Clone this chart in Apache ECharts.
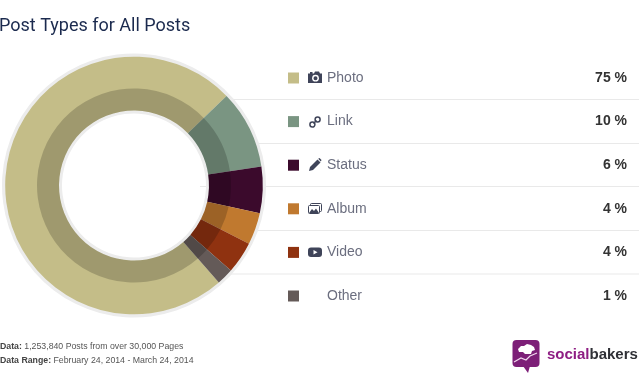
<!DOCTYPE html>
<html><head><meta charset="utf-8">
<style>html,body{margin:0;padding:0;background:#fff}#c{width:639px;height:386px}</style>
<script src="https://cdn.jsdelivr.net/npm/echarts@6/dist/echarts.min.js"></script></head>
<body><div id="c"></div>
<script>
const categories = ['Photo','Link','Status','Album','Video','Other'];
const labelPercent = [75,10,6,4,4,1];
const drawnShare = [74.2,9.9,5.8,4.0,4.0,2.1];
const colors = ['#c4bd88','#7a9582','#3b0a2c','#c0792f','#8f3210','#645a58'];
const titleText = 'Post Types for All Posts';
const footerLines = [['Data:',' 1,253,840 Posts from over 30,000 Pages'],['Data Range:',' February 24, 2014 - March 24, 2014']];
const ruleRows = [99.5,143.5,186.5,230.5,274];

const FONT = '"Liberation Sans", Arial, sans-serif';
const center = [134,185.5];
const pieData = categories.map((n,i)=>({name:n,value:drawnShare[i],itemStyle:{color:colors[i]}}));
const pctByName = Object.fromEntries(categories.map((n,i)=>[n,labelPercent[i]]));
const ICON = '#3f4459';

const icons = [
 {y:77.5,children:[
  {type:'polygon',shape:{points:[[-7,-4],[-5,-4],[-5,-5.5],[-2.5,-5.5],[-2.5,-4],[-1,-4],[0,-6],[4,-6],[5,-4],[7,-4],[7,5.5],[-7,5.5]]},style:{fill:ICON}},
  {type:'circle',shape:{cx:0.5,cy:0.7,r:3.4},style:{fill:'#fff'}},
  {type:'circle',shape:{cx:0.5,cy:0.7,r:2},style:{fill:ICON}}]},
 {y:122,children:[
  {type:'circle',shape:{cx:-2.6,cy:2.6,r:2.5},style:{fill:'none',stroke:ICON,lineWidth:1.5}},
  {type:'circle',shape:{cx:2.6,cy:-2.6,r:2.5},style:{fill:'none',stroke:ICON,lineWidth:1.5}},
  {type:'line',shape:{x1:-1.5,y1:1.5,x2:1.5,y2:-1.5},style:{stroke:ICON,lineWidth:1.5}}]},
 {y:165,children:[
  {type:'polygon',shape:{points:[[-6,6],[-5,2],[2.5,-5.5],[5.5,-2.5],[-2,5]]},style:{fill:ICON}},
  {type:'polygon',shape:{points:[[3.2,-6.2],[4.5,-7],[6.5,-5],[5.8,-3.5]]},style:{fill:ICON}}]},
 {y:208.5,children:[
  {type:'rect',shape:{x:-4.5,y:-5,width:11,height:8,r:1},style:{fill:'#fff',stroke:ICON,lineWidth:1}},
  {type:'rect',shape:{x:-6.5,y:-3,width:11,height:8,r:1},style:{fill:'#fff',stroke:ICON,lineWidth:1}},
  {type:'polygon',shape:{points:[[-6,4.5],[-3,0.5],[-1,2.5],[1,0],[4,4.5]]},style:{fill:ICON}}]},
 {y:252,children:[
  {type:'rect',shape:{x:-7,y:-4.5,width:14,height:9.5,r:3},style:{fill:ICON}},
  {type:'polygon',shape:{points:[[-1.5,-2],[2.5,0.3],[-1.5,2.5]]},style:{fill:'#fff'}}]}
];

const graphics = [
 ...ruleRows.map(y=>({type:'line',z:-1,silent:true,shape:{x1:200,y1:y,x2:639,y2:y},style:{stroke:'#e9e9e9',lineWidth:1}})),
 {type:'text',x:-1,y:17,style:{text:titleText,font:'18px Roboto, '+FONT,fill:'#1b2a4e'}},
 ...icons.map(ic=>({type:'group',x:315,y:ic.y,silent:true,children:ic.children})),
 ...footerLines.map((l,i)=>({type:'text',x:0,y:342.5+i*14,style:{
   text:'{b|'+l[0]+'}{r|'+l[1]+'}',
   rich:{b:{fontFamily:FONT,fontSize:8.75,fontWeight:'bold',fill:'#444'},r:{fontFamily:FONT,fontSize:8.75,fill:'#555'}}}})),
 {type:'group',x:0,y:0,silent:true,children:[
  {type:'rect',shape:{x:512.5,y:340,width:27,height:27,r:4},style:{fill:'#7d1f78'}},
  {type:'polygon',shape:{points:[[523,366],[530,366],[528,373]]},style:{fill:'#7d1f78'}},
  {type:'polygon',shape:{points:[[518,349],[521,346],[524,346],[527,344],[531,345],[534,347],[535,350],[532,351],[531,354],[525,354],[523,352],[519,352]]},style:{fill:'#fff'}},
  {type:'polyline',shape:{points:[[514,362],[521,358],[526,360],[530,356],[537,353]]},style:{stroke:'#f0d8ee',lineWidth:1.2,fill:'none'}},
  {type:'text',x:547,y:347,style:{text:'{a|social}{c|bakers}',rich:{a:{fontFamily:FONT,fontSize:15,fontWeight:'bold',fill:'#8e1d83'},c:{fontFamily:FONT,fontSize:15,fontWeight:'bold',fill:'#2f3036'}}}}
 ]}
];

const chart = echarts.init(document.getElementById('c'),null,{renderer:'canvas'});
chart.setOption({
 animation:false,
 backgroundColor:'#fff',
 legend:{
  data:categories, orient:'vertical', left:288, top:71, padding:0,
  itemWidth:11, itemHeight:11, itemGap:29.6, icon:'rect', selectedMode:false,
  formatter:n=>'{n|'+n+'}{v|'+pctByName[n]+' %}',
  textStyle:{rich:{
   n:{fontFamily:FONT,fontSize:14,color:'#6b6e7f',width:270,padding:[0,0,0,23],lineHeight:14},
   v:{fontFamily:FONT,fontSize:14,fontWeight:'bold',color:'#333',width:30,align:'right',lineHeight:14}
  }}
 },
 graphic:graphics,
 series:[
  {type:'pie',silent:true,center,radius:[72,132],startAngle:-48.8,clockwise:true,z:1,
   data:[{name:'ring',value:1,itemStyle:{color:'#ececec'}}],label:{show:false},labelLine:{show:false}},
  {type:'pie',silent:true,center,radius:[75,128.8],startAngle:-48.8,z:2,
   data:pieData,label:{show:false},labelLine:{show:false}},
  {type:'pie',silent:true,center,radius:[75,97],startAngle:-48.8,z:3,
   data:categories.map((n,i)=>({name:n,value:drawnShare[i],itemStyle:{color:'rgba(0,0,0,0.19)'}})),label:{show:false},labelLine:{show:false}}
 ]
});
</script></body></html>
